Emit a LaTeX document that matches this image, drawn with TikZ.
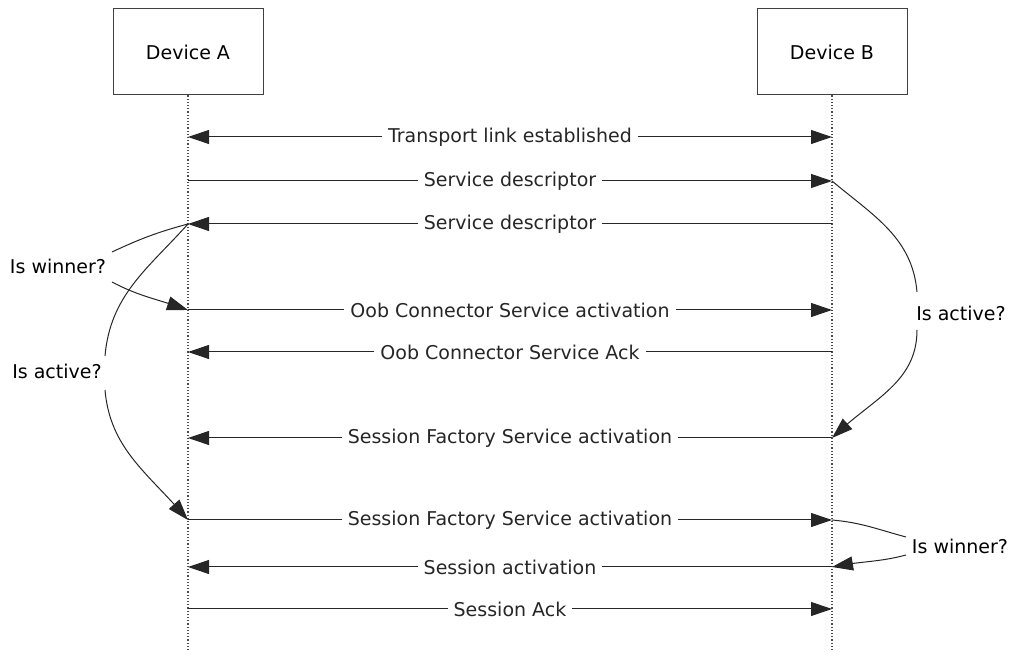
\documentclass[tikz,border=0pt]{standalone}
\usepackage{fontspec}
\setmainfont{DejaVu Sans}
\usetikzlibrary{arrows.meta,bending,positioning}

\tikzset{
  >={Triangle[length=10.5pt,width=7pt]},
  device/.style={draw=black!75,line width=0.5pt,minimum width=75pt,minimum height=43pt},
  lifeline/.style={densely dotted,line width=0.6pt,black!70},
  msg/.style={->,line width=0.5pt,black!85},
  msglabel/.style={fill=white,inner sep=3pt},
  note/.style={inner sep=1pt},
  decision/.style={line width=0.5pt,black!85},
}

\begin{document}
\begin{tikzpicture}[x=0.5pt,y=-0.5pt,font=\fontsize{9.5}{11}\selectfont]
\useasboundingbox (0,0) rectangle (1013,656);

% les deux appareils et leurs lignes de vie
\node[device] (devA) at (188,52) {Device A};
\node[device] (devB) at (832,52) {Device B};
\coordinate (endA) at (188,652);
\coordinate (endB) at (832,652);
\draw[lifeline] (devA.south) -- (endA);
\draw[lifeline] (devB.south) -- (endB);

\foreach \i/\y in {1/137,2/181,3/224,4/310,5/352,6/438,7/520,8/567,9/609}
  {\coordinate (A\i) at (188,\y); \coordinate (B\i) at (832,\y);}

% messages
\draw[msg,<->] (A1) -- node[msglabel]{Transport link established} (B1);
\foreach \i/\from/\to/\txt in {2/A/B/Service descriptor,
    3/B/A/Service descriptor,
    4/A/B/Oob Connector Service activation,
    5/B/A/Oob Connector Service Ack,
    6/B/A/Session Factory Service activation,
    7/A/B/Session Factory Service activation,
    8/B/A/Session activation,
    9/A/B/Session Ack}
  {\draw[msg] (\from\i) -- node[msglabel]{\txt} (\to\i);}

% decisions
\node[note] (winA) at (58,266) {Is winner?};
\node[note] (actA) at (57,371) {Is active?};
\node[note] (actB) at (961,313) {Is active?};
\node[note] (winB) at (960,546) {Is winner?};

\coordinate (winAin) at (112,252);  \coordinate (winAout) at (112,282);
\coordinate (actAin) at (105,356);  \coordinate (actAout) at (105,390);
\coordinate (actBin) at (917,292);  \coordinate (actBout) at (917,330);
\coordinate (winBin) at (906,537);  \coordinate (winBout) at (906,555);

\draw[decision] (A3) to[out=195,in=25] (winAin);
\draw[decision,->] (winAout) to[out=-28,in=160] (A4);
\draw[decision] (A3) to[out=228,in=85] (actAin);
\draw[decision,->] (actAout) to[out=-85,in=130] (A7);

\draw[decision] (B2) to[out=-40,in=95] (actBin);
\draw[decision,->] (actBout) to[out=-90,in=45] (B6);
\draw[decision] (B7) to[out=-5,in=165] (winBin);
\draw[decision,->] (winBout) to[out=195,in=12] (B8);
\end{tikzpicture}
\end{document}
